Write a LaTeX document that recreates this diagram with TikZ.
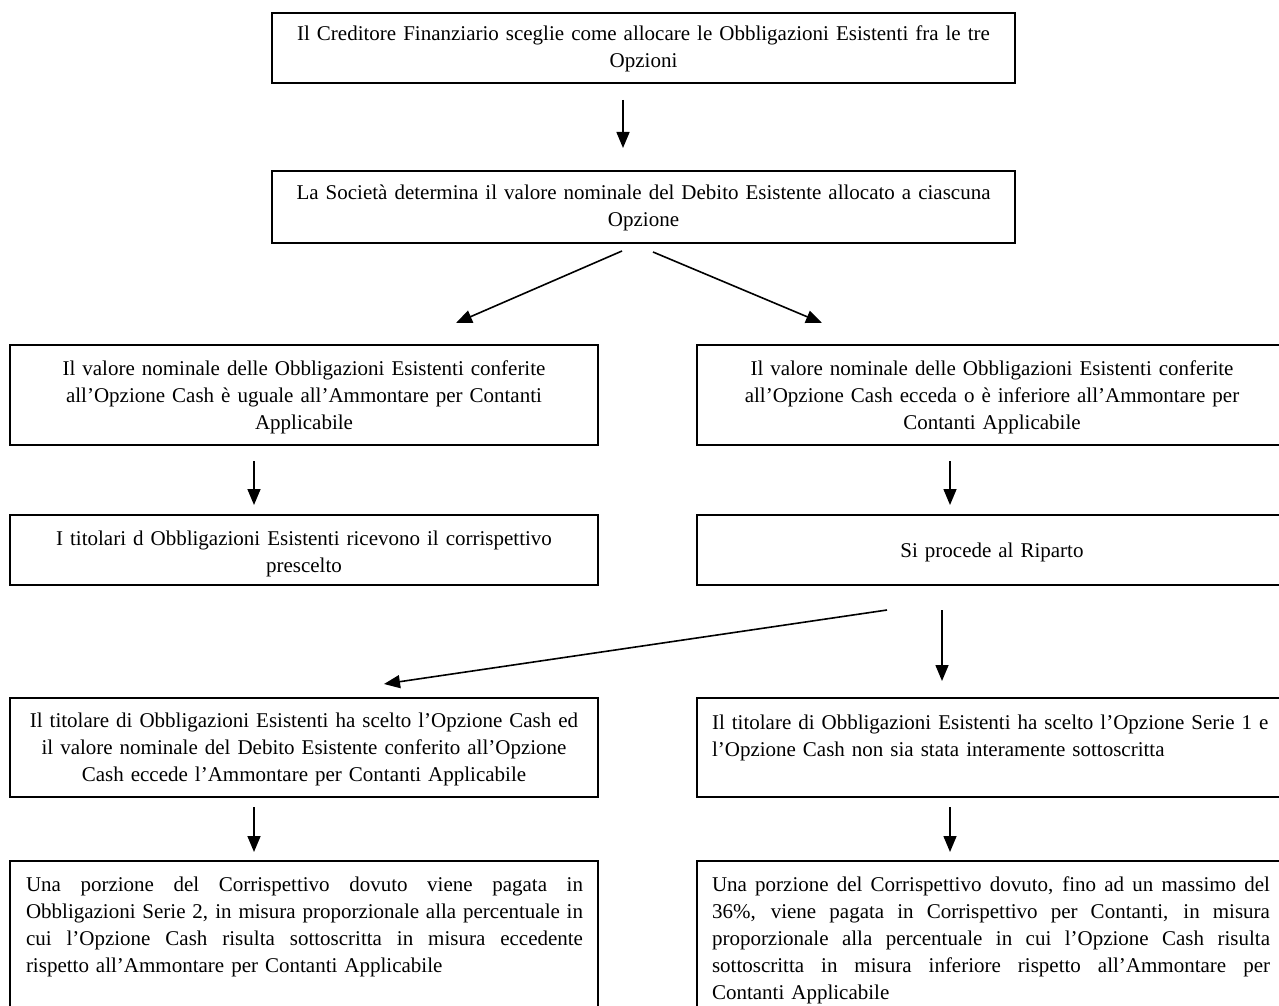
\documentclass[tikz,border=0pt]{standalone}
\usepackage{fontspec}
\setmainfont{Liberation Serif}
\usetikzlibrary{arrows.meta}
\newcommand{\jline}[2]{\leavevmode\hbox to #1{\spaceskip=0.25em plus 1fil minus 0.05em\xspaceskip=0.25em plus 1fil minus 0.05em #2}}
\begin{document}
\begin{tikzpicture}[x=1pt,y=-1pt,
  box/.style={draw, line width=2.5pt, inner sep=0pt, outer sep=0pt, anchor=north west},
  txt/.style={inner sep=0pt, outer sep=0pt, font=\fontsize{21}{27}\selectfont},
  arr/.style={line width=1.6pt, -{Triangle[length=16pt,width=13pt]}}]
\clip (0,0) rectangle (1279,1006);
\fill[white] (0,0) rectangle (1279,1006);

% boxes
\node[box, minimum width=743pt, minimum height=70pt] (b1) at (272,13) {};
\node[box, minimum width=743pt, minimum height=72pt] (b2) at (272,171) {};
\node[box, minimum width=588pt, minimum height=100pt] (b3) at (10,345) {};
\node[box, minimum width=590pt, minimum height=100pt] (b4) at (697,345) {};
\node[box, minimum width=588pt, minimum height=70pt] (b5) at (10,515) {};
\node[box, minimum width=590pt, minimum height=70pt] (b6) at (697,515) {};
\node[box, minimum width=588pt, minimum height=99pt] (b7) at (10,698) {};
\node[box, minimum width=590pt, minimum height=99pt] (b8) at (697,698) {};
\node[box, minimum width=588pt, minimum height=170pt] (b9) at (10,861) {};
\node[box, minimum width=590pt, minimum height=170pt] (b10) at (697,861) {};

% texts
\node[txt, anchor=base, text width=730pt, align=center] (t1) at ([yshift=-28pt]b1.north)
  {Il Creditore Finanziario sceglie come allocare le Obbligazioni Esistenti fra le tre\\Opzioni};
\node[txt, anchor=base, text width=730pt, align=center] (t2) at ([yshift=-28pt]b2.north)
  {La Società determina il valore nominale del Debito Esistente allocato a ciascuna\\Opzione};
\node[txt, anchor=base, text width=570pt, align=center] (t3) at ([yshift=-30pt]b3.north)
  {Il valore nominale delle Obbligazioni Esistenti conferite\\all’Opzione Cash è uguale all’Ammontare per Contanti\\Applicabile};
\node[txt, anchor=base, text width=570pt, align=center] (t4) at ([yshift=-30pt]b4.north)
  {Il valore nominale delle Obbligazioni Esistenti conferite\\all’Opzione Cash ecceda o è inferiore all’Ammontare per\\Contanti Applicabile};
\node[txt, anchor=base, text width=570pt, align=center] (t5) at ([yshift=-30pt]b5.north)
  {I titolari d Obbligazioni Esistenti ricevono il corrispettivo\\prescelto};
\node[txt, anchor=base, text width=570pt, align=center] (t6) at ([yshift=-42pt]b6.north)
  {Si procede al Riparto};
\node[txt, anchor=base, text width=570pt, align=center] (t7) at ([yshift=-29pt]b7.north)
  {Il titolare di Obbligazioni Esistenti ha scelto l’Opzione Cash ed\\il valore nominale del Debito Esistente conferito all’Opzione\\Cash eccede l’Ammontare per Contanti Applicabile};
\node[txt, anchor=base west, text width=575pt, align=left] (t8) at ([xshift=15pt,yshift=-31pt]b8.north west)
  {Il titolare di Obbligazioni Esistenti ha scelto l’Opzione Serie 1 e\\l’Opzione Cash non sia stata interamente sottoscritta};
\node[txt, anchor=base west, text width=557pt, align=left] (t9) at ([xshift=16pt,yshift=-30pt]b9.north west)
  {\jline{557pt}{Una porzione del Corrispettivo dovuto viene pagata in}\\
   \jline{557pt}{Obbligazioni Serie 2, in misura proporzionale alla percentuale in}\\
   \jline{557pt}{cui l’Opzione Cash risulta sottoscritta in misura eccedente}\\
   rispetto all’Ammontare per Contanti Applicabile};
\node[txt, anchor=base west, text width=558pt, align=left] (t10) at ([xshift=15pt,yshift=-30pt]b10.north west)
  {\jline{558pt}{Una porzione del Corrispettivo dovuto, fino ad un massimo del}\\
   \jline{558pt}{36\%, viene pagata in Corrispettivo per Contanti, in misura}\\
   \jline{558pt}{proporzionale alla percentuale in cui l’Opzione Cash risulta}\\
   \jline{558pt}{sottoscritta in misura inferiore rispetto all’Ammontare per}\\
   Contanti Applicabile};

% connector end points
\coordinate (a1s) at (623,100);  \coordinate (a1e) at (623,148);
\coordinate (dls) at (622,251);  \coordinate (dle) at (456,323);
\coordinate (drs) at (653,252);  \coordinate (dre) at (822,323);
\coordinate (l1s) at (254,461);  \coordinate (l1e) at (254,505);
\coordinate (r1s) at (950,461);  \coordinate (r1e) at (950,505);
\coordinate (lgs) at (887,610);  \coordinate (lge) at (384,684);
\coordinate (r2s) at (942,610);  \coordinate (r2e) at (942,681);
\coordinate (l3s) at (254,807);  \coordinate (l3e) at (254,852);
\coordinate (r3s) at (950,807);  \coordinate (r3e) at (950,852);

\draw[arr] (a1s) -- (a1e);
\draw[arr] (dls) -- (dle);
\draw[arr] (drs) -- (dre);
\draw[arr] (l1s) -- (l1e);
\draw[arr] (r1s) -- (r1e);
\draw[arr] (lgs) -- (lge);
\draw[arr] (r2s) -- (r2e);
\draw[arr] (l3s) -- (l3e);
\draw[arr] (r3s) -- (r3e);
\end{tikzpicture}
\end{document}
